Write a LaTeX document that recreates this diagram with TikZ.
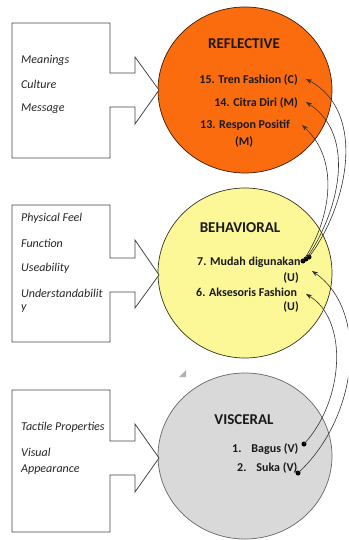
\documentclass[tikz,border=0pt]{standalone}
\usepackage{fontspec}
\setmainfont{Carlito}
\usetikzlibrary{arrows.meta,shapes.geometric}
\definecolor{reflfill}{RGB}{250,108,14}
\definecolor{behfill}{RGB}{252,248,152}
\definecolor{visfill}{RGB}{217,217,217}
\definecolor{boxcol}{RGB}{70,70,70}
\tikzset{
  boxline/.style={draw=boxcol, line width=0.8pt, fill=white},
  bigcirc/.style={ellipse, line width=0.7pt, minimum width=174pt, inner sep=0pt},
  boxtxt/.style={anchor=west, inner sep=0pt, font=\fontsize{12}{14}\selectfont\itshape, text=black!85},
  ttl/.style={inner sep=0pt, font=\fontsize{15}{17}\selectfont\bfseries, text=black!90},
  itm/.style={inner sep=0pt, font=\fontsize{12}{14}\selectfont\bfseries, text=black!90},
  dotn/.style={circle, fill=black, inner sep=0pt, minimum size=5pt},
  conn/.style={draw=black!80, line width=0.6pt},
  tip/.style={-{Stealth[length=6pt,width=4.5pt]}}
}
\begin{document}
\begin{tikzpicture}[x=1pt,y=-1pt]
\useasboundingbox (0,0) rectangle (348,540);
\clip (0,0) rectangle (348,540);

% circles
\node[bigcirc, draw=black!75!reflfill, fill=reflfill, minimum height=166pt] (refc) at (245,90) {};
\node[bigcirc, draw=black!80!behfill, fill=behfill, minimum height=170pt] (behc) at (245,273) {};
\node[bigcirc, draw=black!60, fill=visfill, minimum height=166pt] (visc) at (245,456) {};

% small handle mark
\fill[black!30] (179,377) -- (186,377) -- (186,370) -- cycle;

% boxes with arrow
\draw[boxline] (12,23) -- (110,23) -- (110,73) -- (135,73) -- (135,57) -- (159,90) -- (135,124) -- (135,107) -- (110,107) -- (110,158) -- (12,158) -- cycle;
\draw[boxline] (12,205) -- (110,205) -- (110,258) -- (135,258) -- (135,240) -- (159,275) -- (135,308) -- (135,292) -- (110,292) -- (110,342) -- (12,342) -- cycle;
\draw[boxline] (12,390) -- (110,390) -- (110,441) -- (135,441) -- (135,424) -- (159,458) -- (135,492) -- (135,475) -- (110,475) -- (110,532) -- (12,532) -- cycle;

% box texts
\node[boxtxt] (b1) at (21,60) {Meanings};
\node[boxtxt] (b2) at (21,84) {Culture};
\node[boxtxt] (b3) at (21,109) {Message};
\node[boxtxt] (b4) at (21,218) {Physical Feel};
\node[boxtxt] (b5) at (21,243) {Function};
\node[boxtxt] (b6) at (21,268) {Useability};
\node[boxtxt] (b7) at (21,293) {Understandabilit};
\node[boxtxt] (b8) at (21,309) {y};
\node[boxtxt] (b9) at (21,427) {Tactile Properties};
\node[boxtxt] (b10) at (21,452) {Visual};
\node[boxtxt] (b11) at (21,470) {Appearance};

% titles
\node[ttl] (t1) at (244,44) {REFLECTIVE};
\node[ttl] (t2) at (240,228) {BEHAVIORAL};
\node[ttl] (t3) at (244,420) {VISCERAL};

% items
\node[itm, anchor=east] (i15) at (298,80) {15. Tren Fashion (C)};
\node[itm, anchor=east] (i14) at (298,103) {14. Citra Diri (M)};
\node[itm, anchor=west] (i13) at (200,125) {13. Respon Positif};
\node[itm] (i13b) at (244,142) {(M)};
\node[itm, anchor=west] (i7) at (197,262) {7. Mudah digunakan};
\node[itm, anchor=east] (i7b) at (299,278) {(U)};
\node[itm, anchor=west] (i6) at (196,292) {6. Aksesoris Fashion};
\node[itm, anchor=east] (i6b) at (299,307) {(U)};
\node[itm, anchor=west] (i1) at (232,449) {1.\hspace{10pt}Bagus (V)};
\node[itm, anchor=west] (i2) at (237,468) {2.\hspace{10pt}Suka (V)};

% dots
\node[dotn] (m1) at (303,261) {};
\node[dotn] (m2) at (306,259) {};
\node[dotn] (m3) at (309,257) {};
\node[dotn] (v1) at (304,444) {};
\node[dotn] (v2) at (298,473) {};

% arrow targets
\coordinate (a15) at (306,79);
\coordinate (a14) at (306,102);
\coordinate (a13) at (302,125);
\coordinate (a7) at (312,271);
\coordinate (a6) at (306,294);

% connectors
\draw[conn, tip] (m3.center) .. controls +(38,-50) and +(62,33) .. (a15);
\draw[conn, tip] (m2.center) .. controls +(32,-45) and +(52,34) .. (a14);
\draw[conn, tip] (m1.center) .. controls +(26,-38) and +(40,37) .. (a13);
\draw[conn, tip] (v1.center) .. controls +(40,-43) and +(43,26) .. (a6);
\draw[conn, tip] (v2.center) .. controls +(60,-55) and +(58,40) .. (a7);
\end{tikzpicture}
\end{document}
